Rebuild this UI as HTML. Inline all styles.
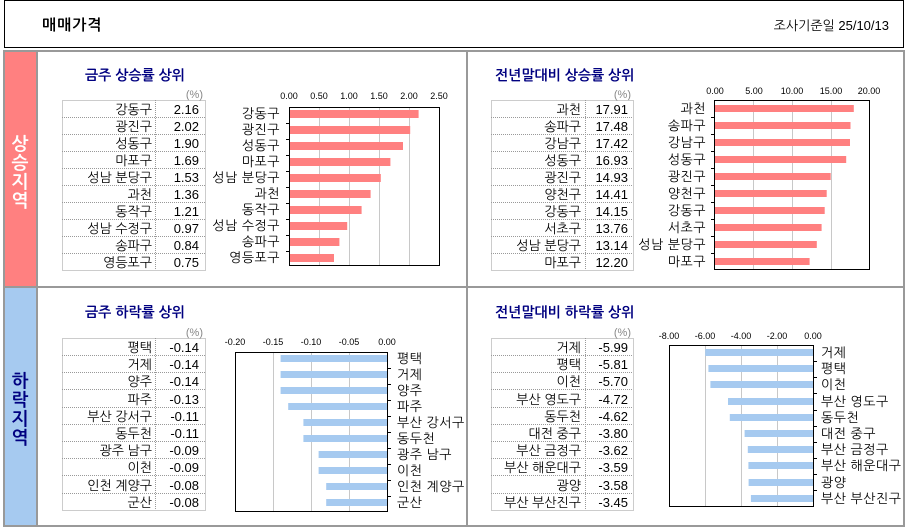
<!DOCTYPE html>
<html><head><meta charset="utf-8"><style>
html,body{margin:0;padding:0;background:#fff;}
svg{display:block;font-family:"Liberation Sans","NanumGothic","Noto Sans CJK KR",sans-serif;}
.t{font-size:13px;fill:#000;}
.cl{letter-spacing:0.5px;}
.tk{font-size:9px;fill:#000;}
.ti{font-size:14px;font-weight:bold;fill:#000080;}
.g{stroke:#c8c8c8;stroke-width:1;}
.tb{stroke:#999;stroke-width:1;stroke-dasharray:1,1;fill:none;}
</style></head><body>
<svg width="908" height="530" xmlns="http://www.w3.org/2000/svg">
<!-- header -->
<rect x="4.5" y="0.5" width="899" height="47" fill="#fff" stroke="#000" stroke-width="1"/>
<text x="42" y="30" style="font-size:15px;font-weight:bold;letter-spacing:1px">매매가격</text>
<text x="889" y="30" text-anchor="end" class="t">조사기준일   25/10/13</text>
<!-- frame -->
<rect x="5" y="52" width="31" height="234" fill="#FF8080"/>
<rect x="5" y="288" width="31" height="237" fill="#A6CAF0"/>
<rect x="4" y="51" width="900" height="475" fill="none" stroke="#999" stroke-width="2"/>
<line x1="37" y1="51" x2="37" y2="526" stroke="#999" stroke-width="2"/>
<line x1="4" y1="287" x2="904" y2="287" stroke="#999" stroke-width="2"/>
<line x1="467" y1="51" x2="467" y2="526" stroke="#999" stroke-width="2"/>
<g style="font-size:18px;font-weight:bold" text-anchor="middle">
<text x="20" y="150" fill="#fff">상</text><text x="20" y="169" fill="#fff">승</text><text x="20" y="188" fill="#fff">지</text><text x="20" y="207" fill="#fff">역</text>
<text x="20" y="387" fill="#000080">하</text><text x="20" y="406" fill="#000080">락</text><text x="20" y="425" fill="#000080">지</text><text x="20" y="444" fill="#000080">역</text>
</g>

<!-- ===== Top-left ===== -->
<text x="85" y="80" class="ti">금주 상승률 상위</text>
<text x="203" y="98" text-anchor="end" style="font-size:11px;fill:#888">(%)</text>
<rect x="62.5" y="100.5" width="143" height="170" class="tb"/>
<line x1="155.5" y1="100" x2="155.5" y2="270" class="tb"/>
<g class="tb"><line x1="62" y1="117.5" x2="205" y2="117.5"/><line x1="62" y1="134.5" x2="205" y2="134.5"/><line x1="62" y1="151.5" x2="205" y2="151.5"/><line x1="62" y1="168.5" x2="205" y2="168.5"/><line x1="62" y1="185.5" x2="205" y2="185.5"/><line x1="62" y1="202.5" x2="205" y2="202.5"/><line x1="62" y1="219.5" x2="205" y2="219.5"/><line x1="62" y1="236.5" x2="205" y2="236.5"/><line x1="62" y1="253.5" x2="205" y2="253.5"/></g>
<g class="t" text-anchor="end">
<text x="152" y="114">강동구</text><text x="199" y="114">2.16</text>
<text x="152" y="131">광진구</text><text x="199" y="131">2.02</text>
<text x="152" y="148">성동구</text><text x="199" y="148">1.90</text>
<text x="152" y="165">마포구</text><text x="199" y="165">1.69</text>
<text x="152" y="182">성남 분당구</text><text x="199" y="182">1.53</text>
<text x="152" y="199">과천</text><text x="199" y="199">1.36</text>
<text x="152" y="216">동작구</text><text x="199" y="216">1.21</text>
<text x="152" y="233">성남 수정구</text><text x="199" y="233">0.97</text>
<text x="152" y="250">송파구</text><text x="199" y="250">0.84</text>
<text x="152" y="267">영등포구</text><text x="199" y="267">0.75</text>
</g>
<g class="g"><line x1="319.5" y1="107" x2="319.5" y2="266"/><line x1="349.5" y1="107" x2="349.5" y2="266"/><line x1="379.5" y1="107" x2="379.5" y2="266"/><line x1="409.5" y1="107" x2="409.5" y2="266"/></g>
<g class="tk" text-anchor="middle"><text x="289" y="99">0.00</text><text x="319" y="99">0.50</text><text x="349" y="99">1.00</text><text x="379" y="99">1.50</text><text x="409" y="99">2.00</text><text x="439" y="99">2.50</text></g>
<g fill="#FF8080">
<rect x="289" y="110" width="129.6" height="8"/><rect x="289" y="126" width="121.2" height="8"/><rect x="289" y="142" width="114" height="8"/><rect x="289" y="158" width="101.4" height="8"/><rect x="289" y="174" width="91.8" height="8"/><rect x="289" y="190" width="81.6" height="8"/><rect x="289" y="206" width="72.6" height="8"/><rect x="289" y="222" width="58.2" height="8"/><rect x="289" y="238" width="50.4" height="8"/><rect x="289" y="254" width="45" height="8"/>
</g>
<rect x="289.5" y="107.5" width="150" height="158" fill="none" stroke="#000" stroke-width="1"/>
<g stroke="#000"><line x1="286" y1="123.5" x2="289" y2="123.5"/><line x1="286" y1="139.5" x2="289" y2="139.5"/><line x1="286" y1="155.5" x2="289" y2="155.5"/><line x1="286" y1="171.5" x2="289" y2="171.5"/><line x1="286" y1="187.5" x2="289" y2="187.5"/><line x1="286" y1="203.5" x2="289" y2="203.5"/><line x1="286" y1="219.5" x2="289" y2="219.5"/><line x1="286" y1="235.5" x2="289" y2="235.5"/><line x1="286" y1="251.5" x2="289" y2="251.5"/></g>
<g class="t cl" text-anchor="end">
<text x="280" y="118">강동구</text><text x="280" y="134">광진구</text><text x="280" y="150">성동구</text><text x="280" y="166">마포구</text><text x="280" y="182">성남 분당구</text><text x="280" y="198">과천</text><text x="280" y="214">동작구</text><text x="280" y="230">성남 수정구</text><text x="280" y="246">송파구</text><text x="280" y="262">영등포구</text>
</g>

<!-- ===== Top-right ===== -->
<text x="495" y="80" class="ti">전년말대비 상승률 상위</text>
<text x="631" y="98" text-anchor="end" style="font-size:11px;fill:#888">(%)</text>
<rect x="491.5" y="100.5" width="142" height="170" class="tb"/>
<line x1="585.5" y1="100" x2="585.5" y2="270" class="tb"/>
<g class="tb"><line x1="491" y1="117.5" x2="633" y2="117.5"/><line x1="491" y1="134.5" x2="633" y2="134.5"/><line x1="491" y1="151.5" x2="633" y2="151.5"/><line x1="491" y1="168.5" x2="633" y2="168.5"/><line x1="491" y1="185.5" x2="633" y2="185.5"/><line x1="491" y1="202.5" x2="633" y2="202.5"/><line x1="491" y1="219.5" x2="633" y2="219.5"/><line x1="491" y1="236.5" x2="633" y2="236.5"/><line x1="491" y1="253.5" x2="633" y2="253.5"/></g>
<g class="t" text-anchor="end">
<text x="581" y="114">과천</text><text x="628" y="114">17.91</text>
<text x="581" y="131">송파구</text><text x="628" y="131">17.48</text>
<text x="581" y="148">강남구</text><text x="628" y="148">17.42</text>
<text x="581" y="165">성동구</text><text x="628" y="165">16.93</text>
<text x="581" y="182">광진구</text><text x="628" y="182">14.93</text>
<text x="581" y="199">양천구</text><text x="628" y="199">14.41</text>
<text x="581" y="216">강동구</text><text x="628" y="216">14.15</text>
<text x="581" y="233">서초구</text><text x="628" y="233">13.76</text>
<text x="581" y="250">성남 분당구</text><text x="628" y="250">13.14</text>
<text x="581" y="267">마포구</text><text x="628" y="267">12.20</text>
</g>
<g class="g"><line x1="753.5" y1="100" x2="753.5" y2="269"/><line x1="792.5" y1="100" x2="792.5" y2="269"/><line x1="831.5" y1="100" x2="831.5" y2="269"/></g>
<g class="tk" text-anchor="middle"><text x="715" y="94">0.00</text><text x="754" y="94">5.00</text><text x="792" y="94">10.00</text><text x="831" y="94">15.00</text><text x="869" y="94">20.00</text></g>
<g fill="#FF8080">
<rect x="715" y="105" width="138.8" height="7"/><rect x="715" y="122" width="135.5" height="7"/><rect x="715" y="139" width="135" height="7"/><rect x="715" y="156" width="131.2" height="7"/><rect x="715" y="173" width="115.7" height="7"/><rect x="715" y="190" width="111.7" height="7"/><rect x="715" y="207" width="109.7" height="7"/><rect x="715" y="224" width="106.6" height="7"/><rect x="715" y="241" width="101.8" height="7"/><rect x="715" y="258" width="94.6" height="7"/>
</g>
<rect x="714.5" y="100.5" width="155" height="169" fill="none" stroke="#000" stroke-width="1"/>
<g stroke="#000"><line x1="711" y1="117.5" x2="715" y2="117.5"/><line x1="711" y1="134.5" x2="715" y2="134.5"/><line x1="711" y1="151.5" x2="715" y2="151.5"/><line x1="711" y1="168.5" x2="715" y2="168.5"/><line x1="711" y1="185.5" x2="715" y2="185.5"/><line x1="711" y1="202.5" x2="715" y2="202.5"/><line x1="711" y1="219.5" x2="715" y2="219.5"/><line x1="711" y1="236.5" x2="715" y2="236.5"/><line x1="711" y1="253.5" x2="715" y2="253.5"/></g>
<g class="t cl" text-anchor="end">
<text x="706" y="113">과천</text><text x="706" y="130">송파구</text><text x="706" y="147">강남구</text><text x="706" y="164">성동구</text><text x="706" y="181">광진구</text><text x="706" y="198">양천구</text><text x="706" y="215">강동구</text><text x="706" y="232">서초구</text><text x="706" y="249">성남 분당구</text><text x="706" y="266">마포구</text>
</g>

<!-- ===== Bottom-left ===== -->
<text x="85" y="317" class="ti">금주 하락률 상위</text>
<text x="203" y="336" text-anchor="end" style="font-size:11px;fill:#888">(%)</text>
<rect x="62.5" y="338.5" width="143" height="172" class="tb"/>
<line x1="155.5" y1="338" x2="155.5" y2="510" class="tb"/>
<g class="tb"><line x1="62" y1="355.5" x2="205" y2="355.5"/><line x1="62" y1="372.5" x2="205" y2="372.5"/><line x1="62" y1="389.5" x2="205" y2="389.5"/><line x1="62" y1="407.5" x2="205" y2="407.5"/><line x1="62" y1="424.5" x2="205" y2="424.5"/><line x1="62" y1="441.5" x2="205" y2="441.5"/><line x1="62" y1="458.5" x2="205" y2="458.5"/><line x1="62" y1="475.5" x2="205" y2="475.5"/><line x1="62" y1="493.5" x2="205" y2="493.5"/></g>
<g class="t" text-anchor="end">
<text x="152" y="352">평택</text><text x="199" y="352">-0.14</text>
<text x="152" y="369">거제</text><text x="199" y="369">-0.14</text>
<text x="152" y="386">양주</text><text x="199" y="386">-0.14</text>
<text x="152" y="404">파주</text><text x="199" y="404">-0.13</text>
<text x="152" y="421">부산 강서구</text><text x="199" y="421">-0.11</text>
<text x="152" y="438">동두천</text><text x="199" y="438">-0.11</text>
<text x="152" y="455">광주 남구</text><text x="199" y="455">-0.09</text>
<text x="152" y="472">이천</text><text x="199" y="472">-0.09</text>
<text x="152" y="490">인천 계양구</text><text x="199" y="490">-0.08</text>
<text x="152" y="507">군산</text><text x="199" y="507">-0.08</text>
</g>
<g class="g"><line x1="273.5" y1="352" x2="273.5" y2="512"/><line x1="311.5" y1="352" x2="311.5" y2="512"/><line x1="349.5" y1="352" x2="349.5" y2="512"/></g>
<g class="tk" text-anchor="middle"><text x="235" y="345">-0.20</text><text x="273" y="345">-0.15</text><text x="311" y="345">-0.10</text><text x="349" y="345">-0.05</text><text x="387" y="345">0.00</text></g>
<g fill="#A6CAF0">
<rect x="280.6" y="355" width="106.4" height="7"/><rect x="280.6" y="371" width="106.4" height="7"/><rect x="280.6" y="387" width="106.4" height="7"/><rect x="288.2" y="403" width="98.8" height="7"/><rect x="303.4" y="419" width="83.6" height="7"/><rect x="303.4" y="435" width="83.6" height="7"/><rect x="318.6" y="451" width="68.4" height="7"/><rect x="318.6" y="467" width="68.4" height="7"/><rect x="326.2" y="483" width="60.8" height="7"/><rect x="326.2" y="499" width="60.8" height="7"/>
</g>
<rect x="235.5" y="352.5" width="152" height="159" fill="none" stroke="#000" stroke-width="1"/>
<g stroke="#000"><line x1="387" y1="368.5" x2="391" y2="368.5"/><line x1="387" y1="384.5" x2="391" y2="384.5"/><line x1="387" y1="400.5" x2="391" y2="400.5"/><line x1="387" y1="416.5" x2="391" y2="416.5"/><line x1="387" y1="432.5" x2="391" y2="432.5"/><line x1="387" y1="448.5" x2="391" y2="448.5"/><line x1="387" y1="464.5" x2="391" y2="464.5"/><line x1="387" y1="480.5" x2="391" y2="480.5"/><line x1="387" y1="496.5" x2="391" y2="496.5"/></g>
<g class="t cl">
<text x="397" y="363">평택</text><text x="397" y="379">거제</text><text x="397" y="395">양주</text><text x="397" y="411">파주</text><text x="397" y="427">부산 강서구</text><text x="397" y="443">동두천</text><text x="397" y="459">광주 남구</text><text x="397" y="475">이천</text><text x="397" y="491">인천 계양구</text><text x="397" y="507">군산</text>
</g>

<!-- ===== Bottom-right ===== -->
<text x="495" y="317" class="ti">전년말대비 하락률 상위</text>
<text x="631" y="336" text-anchor="end" style="font-size:11px;fill:#888">(%)</text>
<rect x="491.5" y="338.5" width="142" height="172" class="tb"/>
<line x1="585.5" y1="338" x2="585.5" y2="510" class="tb"/>
<g class="tb"><line x1="491" y1="355.5" x2="633" y2="355.5"/><line x1="491" y1="372.5" x2="633" y2="372.5"/><line x1="491" y1="389.5" x2="633" y2="389.5"/><line x1="491" y1="407.5" x2="633" y2="407.5"/><line x1="491" y1="424.5" x2="633" y2="424.5"/><line x1="491" y1="441.5" x2="633" y2="441.5"/><line x1="491" y1="458.5" x2="633" y2="458.5"/><line x1="491" y1="475.5" x2="633" y2="475.5"/><line x1="491" y1="493.5" x2="633" y2="493.5"/></g>
<g class="t" text-anchor="end">
<text x="581" y="352">거제</text><text x="628" y="352">-5.99</text>
<text x="581" y="369">평택</text><text x="628" y="369">-5.81</text>
<text x="581" y="386">이천</text><text x="628" y="386">-5.70</text>
<text x="581" y="404">부산 영도구</text><text x="628" y="404">-4.72</text>
<text x="581" y="421">동두천</text><text x="628" y="421">-4.62</text>
<text x="581" y="438">대전 중구</text><text x="628" y="438">-3.80</text>
<text x="581" y="455">부산 금정구</text><text x="628" y="455">-3.62</text>
<text x="581" y="472">부산 해운대구</text><text x="628" y="472">-3.59</text>
<text x="581" y="490">광양</text><text x="628" y="490">-3.58</text>
<text x="581" y="507">부산 부산진구</text><text x="628" y="507">-3.45</text>
</g>
<g class="g"><line x1="705.5" y1="345" x2="705.5" y2="507"/><line x1="741.5" y1="345" x2="741.5" y2="507"/><line x1="777.5" y1="345" x2="777.5" y2="507"/></g>
<g class="tk" text-anchor="middle"><text x="669" y="339">-8.00</text><text x="705" y="339">-6.00</text><text x="741" y="339">-4.00</text><text x="777" y="339">-2.00</text><text x="813" y="339">0.00</text></g>
<g fill="#A6CAF0">
<rect x="705.2" y="349" width="107.8" height="7"/><rect x="708.4" y="365" width="104.6" height="7"/><rect x="710.4" y="381" width="102.6" height="7"/><rect x="728" y="398" width="85" height="7"/><rect x="729.8" y="414" width="83.2" height="7"/><rect x="744.6" y="430" width="68.4" height="7"/><rect x="747.8" y="446" width="65.2" height="7"/><rect x="748.4" y="462" width="64.6" height="7"/><rect x="748.6" y="479" width="64.4" height="7"/><rect x="750.9" y="495" width="62.1" height="7"/>
</g>
<rect x="669.5" y="345.5" width="144" height="161" fill="none" stroke="#000" stroke-width="1"/>
<g stroke="#000"><line x1="813" y1="361.5" x2="817" y2="361.5"/><line x1="813" y1="377.5" x2="817" y2="377.5"/><line x1="813" y1="393.5" x2="817" y2="393.5"/><line x1="813" y1="410.5" x2="817" y2="410.5"/><line x1="813" y1="426.5" x2="817" y2="426.5"/><line x1="813" y1="442.5" x2="817" y2="442.5"/><line x1="813" y1="458.5" x2="817" y2="458.5"/><line x1="813" y1="474.5" x2="817" y2="474.5"/><line x1="813" y1="490.5" x2="817" y2="490.5"/></g>
<g class="t cl">
<text x="821" y="357">거제</text><text x="821" y="373">평택</text><text x="821" y="389">이천</text><text x="821" y="406">부산 영도구</text><text x="821" y="422">동두천</text><text x="821" y="438">대전 중구</text><text x="821" y="454">부산 금정구</text><text x="821" y="470">부산 해운대구</text><text x="821" y="487">광양</text><text x="821" y="503">부산 부산진구</text>
</g>
</svg>
</body></html>
